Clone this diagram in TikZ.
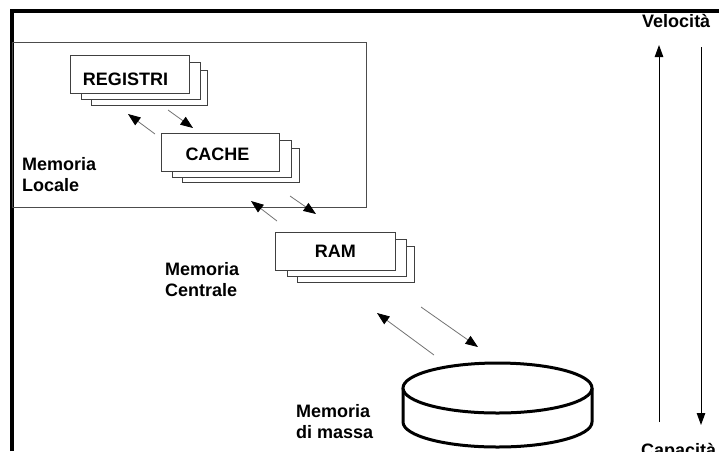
\documentclass[tikz,border=0pt]{standalone}
\usepackage{fontspec}
\setmainfont{Liberation Sans}
\usetikzlibrary{arrows.meta,calc}
\begin{document}
\begin{tikzpicture}[x=1pt,y=-1pt,
  lbl/.style={font=\fontsize{18}{21}\selectfont\bfseries, inner sep=0pt, align=left},
  memfront/.style={draw=black!75, line width=1pt, fill=white, inner sep=0pt,
    font=\fontsize{18}{20}\selectfont\bfseries},
  memback/.style={draw=black!75, line width=1pt, fill=white},
  flow/.style={draw=black!55, line width=0.8pt, -{Triangle[length=12.5pt,width=9.5pt,color=black]}},
  axisarrow/.style={draw=black, line width=1pt, -{Triangle[length=12pt,width=8.5pt]}},
  framebar/.style={draw=black, line width=4pt}]
\useasboundingbox (0,0) rectangle (719,451);
% outer frame (top and left only)
\draw[framebar] (11.7,451) -- (11.7,11) -- (719,11);
% local memory area
\draw[draw=black!70, line width=1pt] (12,42.5) rectangle (366.5,207.5);
% REGISTRI stack
\draw[memback] (91,70) rectangle (207,105);
\draw[memback] (81,62) rectangle (200,99);
\node[memfront, minimum width=119pt, minimum height=38pt, text height=22pt, text depth=0pt] (reg) at (129.5,74) {\hspace*{-8pt}REGISTRI};
% CACHE stack
\draw[memback] (182,148) rectangle (299,182);
\draw[memback] (172,140) rectangle (291,177);
\node[memfront, minimum width=118pt, minimum height=38pt, text height=17pt, text depth=0pt] (cache) at (220,152) {\hspace*{-5pt}CACHE};
% RAM stack
\draw[memback] (297.5,246.5) rectangle (414,282);
\draw[memback] (287,239) rectangle (406,276);
\node[memfront, minimum width=119.5pt, minimum height=37.5pt] (ram) at (335.25,251.25) {RAM};
% disk
\coordinate (disk) at (497.5,388);
\draw[line width=3pt, fill=white] (403,388) -- (403,422)
  arc[start angle=180, end angle=360, x radius=94.5pt, y radius=25pt] -- (592,388);
\draw[line width=3pt, fill=white] (disk) ellipse [x radius=94.5pt, y radius=25pt];
% flow arrows
\coordinate (a1s) at (155,134); \coordinate (a1e) at (128,114);
\coordinate (a2s) at (168,110); \coordinate (a2e) at (193,128);
\coordinate (a3s) at (277,221); \coordinate (a3e) at (251,201);
\coordinate (a4s) at (290,196); \coordinate (a4e) at (316,214);
\coordinate (a5s) at (434,355); \coordinate (a5e) at (377,313);
\coordinate (a6s) at (421,307); \coordinate (a6e) at (478,347);
\draw[flow] (a1s) -- (a1e);
\draw[flow] (a2s) -- (a2e);
\draw[flow] (a3s) -- (a3e);
\draw[flow] (a4s) -- (a4e);
\draw[flow] (a5s) -- (a5e);
\draw[flow] (a6s) -- (a6e);
% speed / capacity axes
\coordinate (upb) at (659,422); \coordinate (upt) at (659,45);
\coordinate (dnt) at (701,47); \coordinate (dnb) at (701,425);
\draw[axisarrow] (upb) -- (upt);
\draw[axisarrow] (dnt) -- (dnb);
% labels
\node[lbl, anchor=north west] (mloc) at (22,157) {Memoria\\Locale};
\node[lbl, anchor=north west] (mcen) at (165,262) {Memoria\\Centrale};
\node[lbl, anchor=north west] (mmas) at (296,404) {Memoria\\di massa};
\node[lbl, anchor=base west] (vel) at (642,27) {Velocità};
\node[lbl, anchor=base west] (cap) at (641,456) {Capacità};
\end{tikzpicture}
\end{document}
